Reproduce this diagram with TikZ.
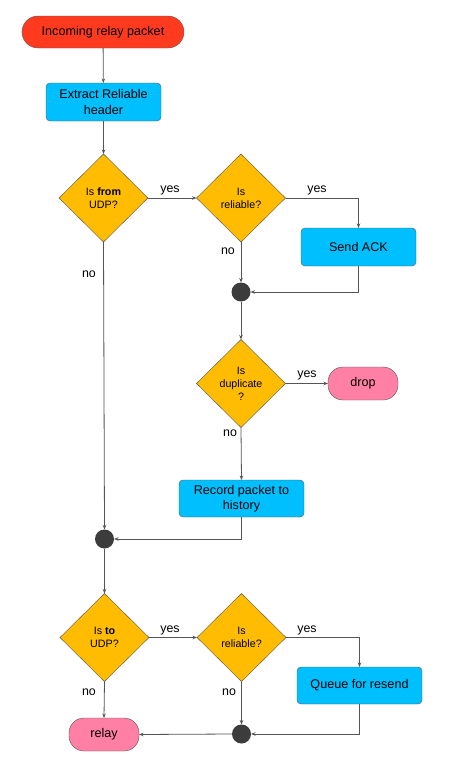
\documentclass[tikz,border=0pt]{standalone}
\usepackage{fontspec}
\setmainfont{Liberation Sans}
\usetikzlibrary{shapes.geometric,arrows.meta}
\definecolor{cred}{HTML}{FF3A1E}
\definecolor{cblue}{HTML}{00BFFF}
\definecolor{corange}{HTML}{FFBC00}
\definecolor{cpink}{HTML}{FF80A4}
\definecolor{cline}{HTML}{555555}
\definecolor{cdot}{HTML}{3C3C3C}
\tikzset{
  every node/.style={inner sep=0pt, outer sep=0pt},
  termred/.style={draw=cline, fill=cred, rounded corners=16pt, minimum width=162pt, minimum height=32pt, font=\fontsize{12.6pt}{15pt}\selectfont},
  termpink/.style={draw=cline, fill=cpink, rounded corners=15pt, minimum width=70pt, minimum height=33pt, font=\fontsize{12.6pt}{15pt}\selectfont},
  procbox/.style={draw=cline, fill=cblue, rounded corners=4pt, minimum width=115pt, minimum height=38pt, align=center, font=\fontsize{12.6pt}{15.5pt}\selectfont},
  decision/.style={draw=cline, fill=corange, diamond, minimum width=89pt, minimum height=88pt, aspect=1, align=center, font=\fontsize{10.7pt}{13pt}\selectfont},
  joindot/.style={circle, fill=cdot, minimum size=19pt},
  lbl/.style={font=\fontsize{12.4pt}{14pt}\selectfont},
  conn/.style={draw=cline, line width=0.8pt, -{Stealth[length=4.5pt,width=3.5pt]}},
  plain/.style={draw=cline, line width=0.8pt},
}
\begin{document}
\begin{tikzpicture}[x=1pt,y=-1pt]
\useasboundingbox (0,0) rectangle (448,761);
\node[termred] (start) at (103,32) {Incoming relay packet};
\node[procbox] (extract) at (103.5,102) {Extract Reliable\\header};
\node[decision] (fromudp) at (103.5,198) {Is \textbf{from}\\UDP?};
\node[decision] (rel1) at (241,198) {Is\\reliable?};
\node[procbox] (ack) at (358.5,247) {Send ACK};
\node[joindot] (j1) at (241,292) {};
\node[decision] (dup) at (241,383.5) {Is\\duplicate\\?};
\node[termpink] (drop) at (363,383.5) {drop};
\node[procbox, minimum width=125pt, minimum height=37pt] (record) at (241.5,498.5) {Record packet to\\history};
\node[joindot] (j2) at (104.5,539) {};
\node[decision] (toudp) at (104.5,637.5) {Is \textbf{to}\\UDP?};
\node[decision] (rel2) at (241.5,637.5) {Is\\reliable?};
\node[procbox, minimum width=125pt, minimum height=37pt] (queue) at (359.5,685.5) {Queue for resend};
\node[joindot] (j3) at (241.5,734) {};
\node[termpink] (relay) at (104,734.5) {relay};

\coordinate (c1) at (ack.north |- rel1.east);
\coordinate (c2) at (ack.south |- j1.east);
\coordinate (c3) at (record.south |- j2.east);
\coordinate (c4) at (queue.north |- rel2.east);
\coordinate (c5) at (queue.south |- j3.east);

\draw[conn] (start) -- (extract);
\draw[conn] (extract) -- (fromudp);
\draw[conn] (fromudp.east) -- (rel1.west);
\node[lbl] (yes1) at (170,190) {yes};
\draw[plain] (rel1.east) -- (c1);
\draw[conn] (c1) -- (ack.north);
\node[lbl] (yes2) at (317,190.5) {yes};
\draw[conn] (rel1.south) -- (j1.north);
\node[lbl] (no2) at (228,251) {no};
\draw[plain] (ack.south) -- (c2);
\draw[conn] (c2) -- (j1.east);
\draw[conn] (j1.south) -- (dup.north);
\draw[conn] (dup.east) -- (drop.west);
\node[lbl] (yes3) at (307,375.5) {yes};
\draw[conn] (dup.south) -- (record.north);
\node[lbl] (no3) at (230,433) {no};
\draw[plain] (record.south) -- (c3);
\draw[conn] (c3) -- (j2.east);
\draw[conn] (fromudp.south) -- (j2.north);
\node[lbl] (no1) at (89,274) {no};
\draw[conn] (j2.south) -- (toudp.north);
\draw[conn] (toudp.east) -- (rel2.west);
\node[lbl] (yes4) at (170,630.5) {yes};
\draw[plain] (rel2.east) -- (c4);
\draw[conn] (c4) -- (queue.north);
\node[lbl] (yes5) at (307,630.5) {yes};
\draw[plain] (queue.south) -- (c5);
\draw[conn] (c5) -- (j3.east);
\draw[conn] (rel2.south) -- (j3.north);
\node[lbl] (no5) at (229,692) {no};
\draw[conn] (toudp.south) -- (relay.north);
\node[lbl] (no4) at (89,692) {no};
\draw[conn] (j3.west) -- (relay.east);
\end{tikzpicture}
\end{document}
